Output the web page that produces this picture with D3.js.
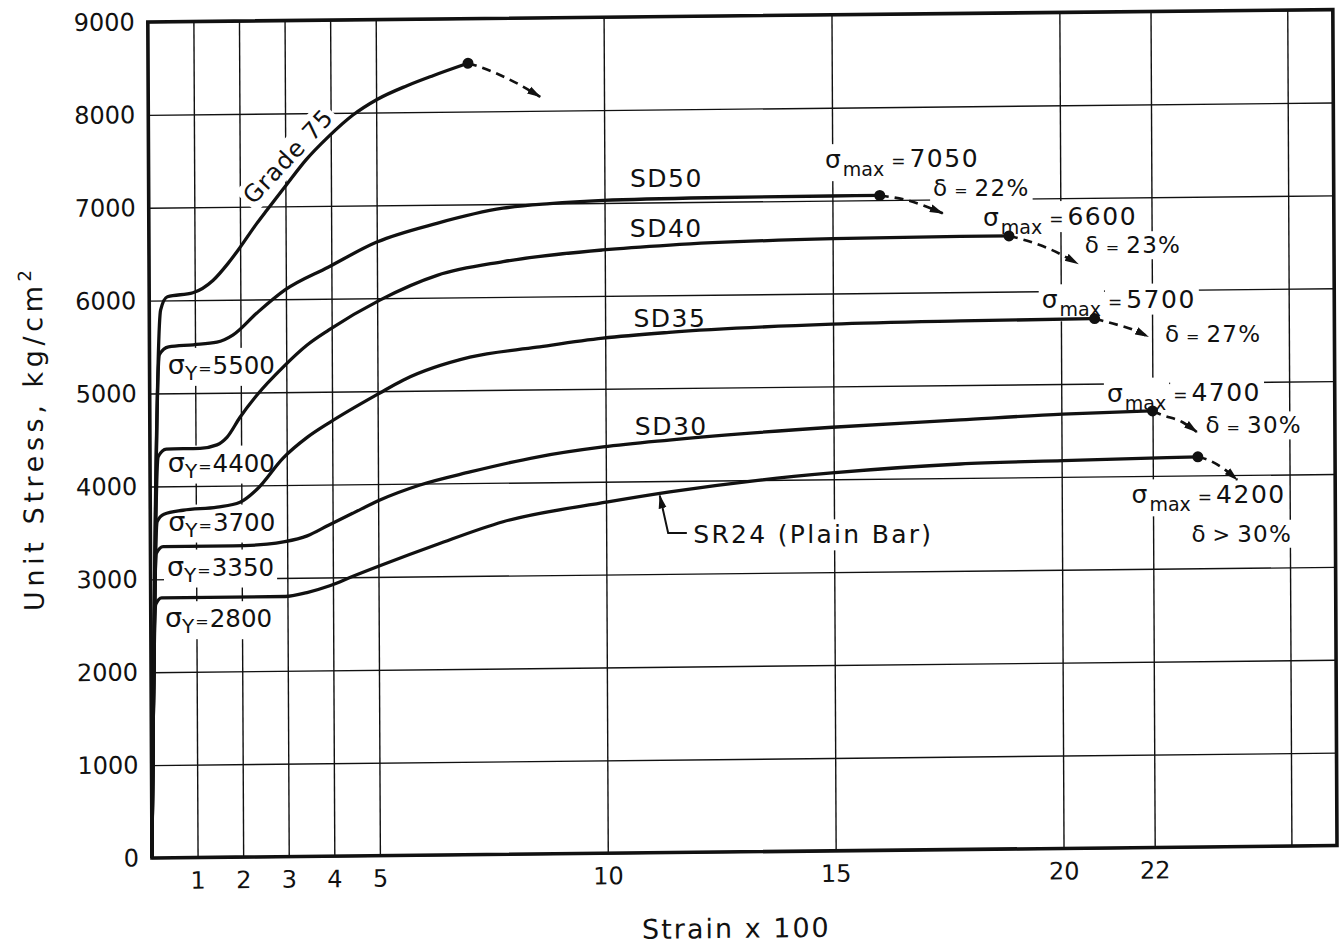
<!DOCTYPE html>
<html>
<head>
<meta charset="utf-8">
<script src="https://cdn.jsdelivr.net/npm/d3@7"></script>
<style>
  html, body { margin: 0; padding: 0; background: #fff; }
  svg { display: block; }
  text { font-family: "DejaVu Sans", sans-serif; fill: #111; }
</style>
</head>
<body>
<svg id="chart" width="1340" height="947"></svg>
<script>
// Stress–strain curves of reinforcing bars: strain (x100) against unit stress (kg/cm²)

// grid and tick values
const strainGrid = [1, 2, 3, 4, 5, 10, 15, 20, 22, 25];
const strainTickLabels = [1, 2, 3, 4, 5, 10, 15, 20, 22];
const stressTicks = [0, 1000, 2000, 3000, 4000, 5000, 6000, 7000, 8000, 9000];

// curves: [strain x100, stress kg/cm²]
const grade75 = [[0,0],[0.25,5900],[0.4,6040],[0.96,6080],[1.4,6210],[1.73,6390],[1.95,6530],[2.37,6820],[2.59,6960],[2.99,7210],[3.46,7500],[3.94,7740],[4.49,7975],[5.02,8140],[5.68,8285],[6.25,8390],[7.02,8520]];
const sd50 = [[0,0],[0.22,5420],[0.42,5500],[0.96,5520],[1.48,5545],[1.83,5620],[2.36,5855],[2.98,6100],[3.93,6340],[5.0,6605],[6.32,6800],[7.77,6955],[8.8,7000],[9.97,7028],[12.25,7045],[14.95,7050],[16.04,7050]];
const sd40 = [[0,0],[0.18,4320],[0.36,4400],[1.1,4405],[1.47,4440],[1.69,4520],[1.98,4735],[2.35,4970],[2.93,5270],[3.46,5505],[3.94,5665],[5.06,5980],[6.32,6240],[7.77,6380],[9.96,6495],[11.43,6540],[15.01,6590],[17.8,6600],[18.87,6600]];
const sd35 = [[0,0],[0.15,3620],[0.3,3700],[0.72,3740],[1.47,3770],[1.97,3820],[2.35,3960],[2.92,4290],[3.45,4510],[3.95,4670],[5.05,4980],[5.56,5115],[7.03,5355],[8.5,5455],[9.95,5545],[11.4,5600],[14.98,5670],[17.8,5690],[20.74,5700]];
const sd30 = [[0,0],[0.13,3280],[0.28,3350],[1.81,3350],[2.56,3365],[2.95,3390],[3.44,3450],[3.92,3565],[4.45,3690],[5.04,3828],[5.92,3985],[7.02,4120],[8.49,4273],[9.94,4374],[11.39,4441],[14.97,4560],[17.78,4625],[20.03,4675],[22.0,4700]];
const sr24 = [[0,0],[0.11,2730],[0.24,2800],[2.95,2800],[3.43,2840],[3.93,2910],[4.44,3010],[5.03,3120],[6.3,3345],[7.74,3580],[10.04,3781],[11.4,3882],[13.38,4000],[14.96,4068],[17.77,4150],[20.03,4175],[22.31,4195],[22.99,4200]];

// descending branches after the maximum stress (dashed)
const grade75Drop = [[7.02,8520],[7.22,8490],[7.72,8390],[8.16,8280],[8.6,8150]];
const sd50Drop = [[16.04,7050],[16.68,6990],[17.42,6850]];
const sd40Drop = [[18.87,6600],[19.27,6545],[19.75,6457],[20.38,6293]];
const sd35Drop = [[20.74,5700],[21.14,5645],[21.58,5577],[21.91,5500]];
const sd30Drop = [[22.0,4700],[22.21,4655],[22.65,4577],[22.97,4468]];
const sr24Drop = [[22.99,4200],[23.26,4156],[23.59,4057],[23.85,3948]];

// annotations (anchors in strain / stress units)
const yieldLabels = [
  { value: 5500, at: [0.40, 5210] },
  { value: 4400, at: [0.39, 4158] },
  { value: 3700, at: [0.39, 3523] },
  { value: 3350, at: [0.36, 3039] },
  { value: 2800, at: [0.31, 2483] }
];
const maxLabels = [
  { value: 7050, at: [14.84, 7350] },
  { value: 6600, at: [18.30, 6712] },
  { value: 5700, at: [19.58, 5817] },
  { value: 4700, at: [21.00, 4805] },
  { value: 4200, at: [21.53, 3707] }
];
const elongLabels = [
  { op: "=", pct: "22%", at: [17.21, 7040] },
  { op: "=", pct: "23%", at: [20.53, 6405] },
  { op: "=", pct: "27%", at: [22.28, 5444] },
  { op: "=", pct: "30%", at: [23.16, 4452] },
  { op: ">", pct: "30%", at: [22.84, 3287] }
];
const curveNames = [
  { text: "SD50", at: [10.56, 7170] },
  { text: "SD40", at: [10.55, 6633] },
  { text: "SD35", at: [10.62, 5665] },
  { text: "SD30", at: [10.64, 4499] },
  { text: "SR24 (Plain Bar)", at: [11.91, 3326] }
];
const gradeLabel = { text: "Grade 75", at: [3.07, 7536], angle: -47 };
const sr24Leader = [[11.77, 3438], [11.36, 3441], [11.18, 3845]];

const W = 1340, H = 947;
const svg = d3.select("#chart");
svg.append("rect").attr("width", W).attr("height", H).attr("fill", "#fff");

const x = d3.scaleLinear().domain([0, 26]).range([152, 1337]);
const y = d3.scaleLinear().domain([0, 9000]).range([858, 22]);

// the sheet is slightly skewed; SKEW maps the flat layout onto it
const OX = 152, OY = 858, SX = 0.005, SY = -0.0105;
const SKEW = `translate(${OX},${OY}) matrix(1,${SY},${SX},1,0,0) translate(${-OX},${-OY})`;
const sk = (px, py) => [OX + (px - OX) + SX * (py - OY), OY + SY * (px - OX) + (py - OY)];

const gGrid = svg.append("g").attr("transform", SKEW);
const gMask = svg.append("g");
const gCurves = svg.append("g").attr("transform", SKEW);
const gText = svg.append("g");

// grid via axes
const plotW = x(26) - x(0), plotH = y(0) - y(9000);
const xAxis = d3.axisBottom(x).tickValues(strainGrid).tickSize(-plotH).tickPadding(14)
  .tickFormat(d => strainTickLabels.includes(d) ? d : "");
const yAxis = d3.axisLeft(y).tickValues(stressTicks).tickSize(-plotW).tickPadding(13)
  .tickFormat(d => d);

const gx = gGrid.append("g").attr("transform", `translate(0,${y(0)})`).call(xAxis);
const gy = gGrid.append("g").attr("transform", `translate(${x(0)},0)`).call(yAxis);
[gx, gy].forEach(g => {
  g.select(".domain").remove();
  g.selectAll(".tick line").attr("stroke", "#111").attr("stroke-width", 1.4);
  g.selectAll(".tick text").attr("font-size", 24).attr("fill", "#111")
    .attr("font-family", "DejaVu Sans, sans-serif");
});

// axis titles
gGrid.append("text")
  .attr("x", 736).attr("y", 944)
  .attr("text-anchor", "middle")
  .attr("font-size", 27).attr("letter-spacing", 2)
  .text("Strain x 100");

const yt = gGrid.append("text")
  .attr("transform", "translate(45,437) rotate(-90)")
  .attr("text-anchor", "middle")
  .attr("font-size", 27).attr("letter-spacing", 4.6);
yt.append("tspan").text("Unit Stress, kg/cm");
yt.append("tspan").attr("font-size", 18).attr("dy", -11).text("2");

// arrowhead
const defs = svg.append("defs");
defs.append("marker").attr("id", "arrow")
  .attr("viewBox", "0 -5 14 10").attr("refX", 13).attr("refY", 0)
  .attr("markerWidth", 14).attr("markerHeight", 10)
  .attr("markerUnits", "userSpaceOnUse").attr("orient", "auto")
  .append("path").attr("d", "M0,-4L14,0L0,4Z").attr("fill", "#111");

// curves
const line = d3.line().x(d => x(d[0])).y(d => y(d[1])).curve(d3.curveMonotoneX);
const series = [grade75, sd50, sd40, sd35, sd30, sr24];
const drops = [grade75Drop, sd50Drop, sd40Drop, sd35Drop, sd30Drop, sr24Drop];

gCurves.selectAll("path.curve").data(series).join("path")
  .attr("class", "curve").attr("d", line)
  .attr("fill", "none").attr("stroke", "#111").attr("stroke-width", 3.3)
  .attr("stroke-linejoin", "round");

gCurves.selectAll("path.drop").data(drops).join("path")
  .attr("class", "drop").attr("d", line)
  .attr("fill", "none").attr("stroke", "#111").attr("stroke-width", 2.6)
  .attr("stroke-dasharray", "9,6").attr("marker-end", "url(#arrow)");

gCurves.selectAll("circle.peak").data(series).join("circle")
  .attr("class", "peak")
  .attr("cx", d => x(d[d.length - 1][0]))
  .attr("cy", d => y(d[d.length - 1][1]))
  .attr("r", 5.5).attr("fill", "#111");

gCurves.append("path")
  .attr("d", d3.line().x(d => x(d[0])).y(d => y(d[1]))(sr24Leader))
  .attr("fill", "none").attr("stroke", "#111").attr("stroke-width", 2)
  .attr("marker-end", "url(#arrow)");

// border
gCurves.append("rect")
  .attr("x", x(0)).attr("y", y(9000)).attr("width", plotW).attr("height", plotH)
  .attr("fill", "none").attr("stroke", "#111").attr("stroke-width", 3.6);

// label helper: upright text placed on the skewed sheet, with a white patch under it
function label(at, angle, build, anchor, offset) {
  const p = sk(x(at[0]) + (offset || 0), y(at[1]));
  const tr = `translate(${p[0]},${p[1]})` + (angle ? ` rotate(${angle})` : "");
  const t = gText.append("text").attr("transform", tr)
    .attr("text-anchor", anchor || "start");
  build(t);
  const b = t.node().getBBox();
  gMask.append("rect").attr("transform", tr)
    .attr("x", b.x - 3).attr("y", b.y - 1).attr("width", b.width + 6).attr("height", b.height + 2)
    .attr("fill", "#fff");
  return t;
}

yieldLabels.forEach(l => label(l.at, 0, t => {
  t.append("tspan").attr("font-size", 27).text("σ");
  t.append("tspan").attr("font-size", 20).attr("dy", 6).text("Y");
  t.append("tspan").attr("font-size", 16).attr("dy", -6).attr("dx", 1).text("=");
  t.append("tspan").attr("font-size", 24.5).attr("dx", 1).text(l.value);
}));

maxLabels.forEach(l => {
  const sym = label(l.at, 0, t => {
    t.append("tspan").attr("font-size", 25).text("σ");
    t.append("tspan").attr("font-size", 19).attr("dy", 8).attr("dx", 2).text("max");
  });
  const w = sym.node().getBBox().width;
  label(l.at, 0, t => {
    t.append("tspan").attr("font-size", 17).text("=");
    t.append("tspan").attr("font-size", 25).attr("dx", 4).attr("letter-spacing", 1.5).text(l.value);
  }, "start", w + 7);
});

elongLabels.forEach(l => label(l.at, 0, t => {
  t.append("tspan").attr("font-size", 23).text("δ");
  t.append("tspan").attr("font-size", l.op === "=" ? 16 : 21).attr("dx", 7).text(l.op);
  t.append("tspan").attr("font-size", 23).attr("dx", 7).attr("letter-spacing", 1.3).text(l.pct);
}));

curveNames.forEach(l => label(l.at, 0, t => {
  t.attr("font-size", 25).attr("letter-spacing", l.text.length > 4 ? 2.3 : 1.5).text(l.text);
}));

label(gradeLabel.at, gradeLabel.angle, t => {
  t.attr("font-size", 24).attr("letter-spacing", 1).attr("dominant-baseline", "central")
    .text(gradeLabel.text);
}, "middle");
</script>
</body>
</html>
